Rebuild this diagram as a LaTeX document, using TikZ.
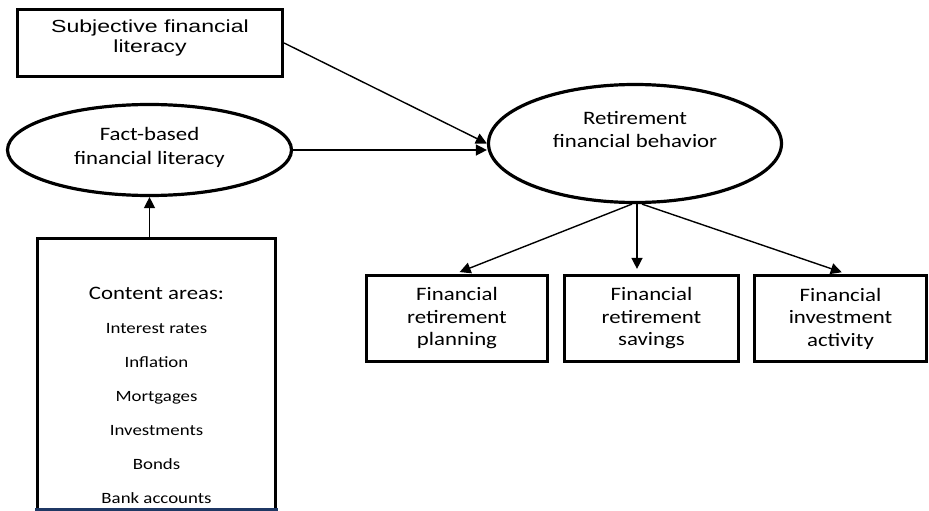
\documentclass[tikz,border=0pt]{standalone}
\usepackage{fontspec}
\setmainfont[FakeStretch=1.2]{Carlito}
\newfontfamily\arialx[FakeStretch=1.32]{Liberation Sans}
\usetikzlibrary{shapes.geometric,arrows.meta,calc}
\definecolor{navyline}{RGB}{31,56,100}
\begin{document}
\begin{tikzpicture}[x=1pt,y=-1pt,
  boxthick/.style={draw=black,line width=3.2pt,rectangle,inner sep=0pt},
  ellthick/.style={draw=black,line width=3.2pt,ellipse,inner sep=0pt},
  lbl/.style={font=\fontsize{19}{23}\selectfont,align=center,inner sep=0pt},
  item/.style={font=\fontsize{15.7}{18}\selectfont,anchor=base,inner sep=0pt},
  arr/.style={line width=1.4pt,-{Triangle[length=11pt,width=11pt]}}]
\useasboundingbox (0,0) rectangle (929,511);
% shapes
\node[boxthick,minimum width=265pt,minimum height=67pt] (subj) at (150,43) {};
\node[font=\arialx\fontsize{17.5}{20.5}\selectfont,align=center,inner sep=0pt] (subjt) at (150,38) {Subjective financial\\literacy};
\node[ellthick,minimum width=284pt,minimum height=91pt] (fact) at (149.5,150) {};
\node[lbl,font=\fontsize{19}{24}\selectfont] (factt) at (149.5,147.4) {Fact-based\\financial literacy};
\node[ellthick,minimum width=293pt,minimum height=118pt] (ret) at (635,143.5) {};
\node[lbl] (rett) at (635,129.7) {Retirement\\financial behavior};
% content box
\node[draw=none,rectangle,minimum width=238pt,minimum height=270.5pt,inner sep=0pt] (content) at (156.5,373.75) {};
\draw[line width=3.2pt] (content.south west) -- (content.north west) -- (content.north east) -- (content.south east);
\draw[navyline,line width=3pt] ($(content.south west)+(-2,0)$) -- ($(content.south east)+(2,0)$);
\node[item,font=\fontsize{19}{23}\selectfont] (ca) at (156.5,299) {Content areas:};
\node[item] (i1) at (156.5,333) {Interest rates};
\node[item] (i2) at (156.5,367.5) {Inflation};
\node[item] (i3) at (156.5,401.5) {Mortgages};
\node[item] (i4) at (156.5,435) {Investments};
\node[item] (i5) at (156.5,469) {Bonds};
\node[item] (i6) at (156.5,503) {Bank accounts};
% outcome boxes
\node[boxthick,lbl,minimum width=181pt,minimum height=86pt,font=\fontsize{19}{22.5}\selectfont] (b1) at (457,318.5) {Financial\\retirement\\planning};
\node[boxthick,lbl,minimum width=174pt,minimum height=86pt,font=\fontsize{19}{22.5}\selectfont] (b2) at (651.5,318.5) {Financial\\retirement\\savings};
\node[boxthick,lbl,minimum width=172pt,minimum height=86pt,font=\fontsize{19}{22.5}\selectfont] (b3) at (840.5,318.5) {Financial\\investment\\activity};
% connectors
\coordinate (rs1) at ($(ret.south)+(-3,0)$);
\coordinate (rs2) at ($(ret.south)+(2,0)$);
\coordinate (rs3) at ($(ret.south)+(7,0)$);
\draw[arr] (subj.east) -- (ret.west);
\draw[arr] (fact.east) -- (ret.west |- fact.east);
\draw[arr] (content.north -| fact.south) -- (fact.south);
\draw[arr,shorten >=5pt] (rs1) -- ($(b1.north)+(-2,0)$);
\draw[arr,shorten >=5pt] (rs2) -- (rs2 |- b2.north);
\draw[arr,shorten >=5pt] (rs3) -- ($(b3.north)+(6,0)$);
\end{tikzpicture}
\end{document}
